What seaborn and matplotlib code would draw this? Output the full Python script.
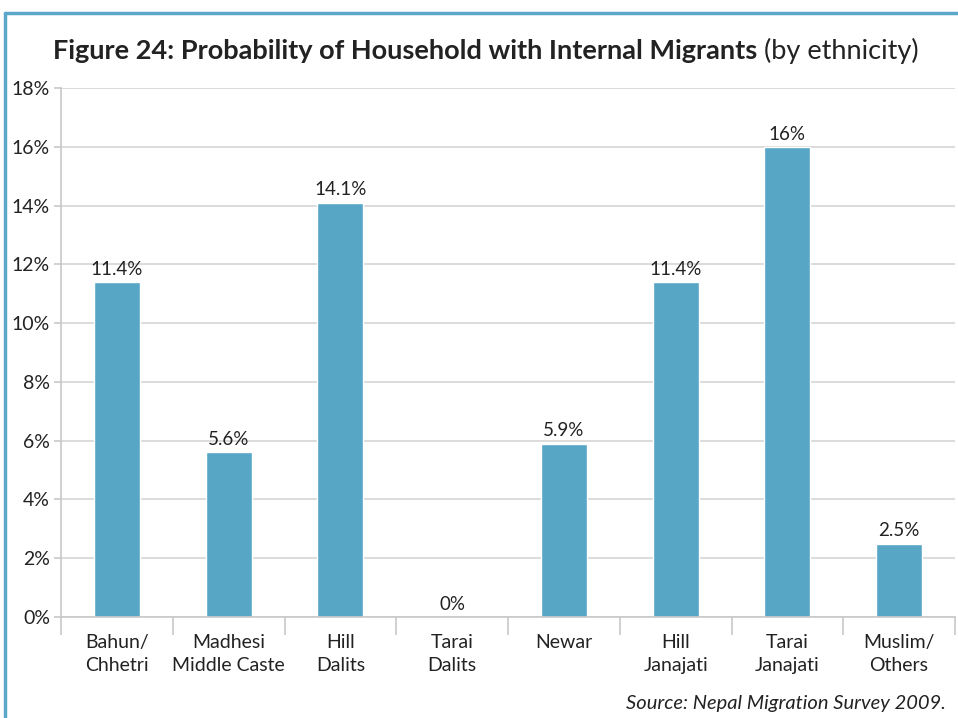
import matplotlib
matplotlib.use("Agg")
import matplotlib.pyplot as plt
import seaborn as sns
import pandas as pd
from matplotlib.lines import Line2D

categories = ["Bahun/\nChhetri", "Madhesi\nMiddle Caste", "Hill\nDalits", "Tarai\nDalits",
              "Newar", "Hill\nJanajati", "Tarai\nJanajati", "Muslim/\nOthers"]
values = [11.4, 5.6, 14.1, 0, 5.9, 11.4, 16, 2.5]
y_ticks = [0, 2, 4, 6, 8, 10, 12, 14, 16, 18]

sns.set_theme(style="white")
plt.rcParams["font.family"] = ["Lato", "DejaVu Sans"]

df = pd.DataFrame({"group": categories, "pct": values})

fig = plt.figure(figsize=(9.58, 7.18), dpi=100)
ax = fig.add_axes([61 / 958, 1 - 617 / 718, (955 - 61) / 958, (617 - 88) / 718])

bar_color = "#58A6C6"
sns.barplot(data=df, x="group", y="pct", color=bar_color, width=0.41,
            saturation=1, ax=ax, zorder=2)

ax.set_ylim(0, 18)
ax.set_xlim(-0.5, len(categories) - 0.5)
ax.set_yticks(y_ticks)
ax.set_yticklabels([f"{t}%" for t in y_ticks], fontsize=14, color="#222222")
ax.yaxis.grid(True, color="#D6D6D6", linewidth=1.2, zorder=0)
ax.set_axisbelow(True)
ax.set_xlabel("")
ax.set_ylabel("")

for s in ["top", "right"]:
    ax.spines[s].set_visible(False)
for s in ["left", "bottom"]:
    ax.spines[s].set_color("#C8C8C8")
    ax.spines[s].set_linewidth(1.2)
ax.spines["bottom"].set_zorder(3)

ax.tick_params(axis="y", which="major", left=True, length=5, color="#C8C8C8", width=1.2, pad=3)
ax.set_xticks(range(len(categories)))
ax.set_xticklabels(categories, fontsize=14, color="#222222", linespacing=1.42)
ax.tick_params(axis="x", which="major", bottom=False, pad=6)
ax.set_xticks([i - 0.5 for i in range(len(categories) + 1)], minor=True)
ax.tick_params(axis="x", which="minor", bottom=True, length=13, color="#C8C8C8", width=1.2)

for i, v in enumerate(values):
    ax.annotate(f"{v:g}%", (i, v), xytext=(0, 3), textcoords="offset points",
                ha="center", va="bottom", fontsize=13.5, color="#222222")

# Title: bold lead followed by a regular qualifier
fig.canvas.draw()
renderer = fig.canvas.get_renderer()
t1 = fig.text(0, 0, "Figure 24: Probability of Household with Internal Migrants ",
              fontsize=19.5, fontweight="bold", color="#222222", va="baseline")
t2 = fig.text(0, 0, "(by ethnicity)", fontsize=19.5, color="#222222", va="baseline")
w1 = t1.get_window_extent(renderer).width
w2 = t2.get_window_extent(renderer).width
x0 = (486 - (w1 + w2) / 2) / 958
ybase = 1 - 59 / 718
t1.set_position((x0, ybase))
t2.set_position((x0 + w1 / 958, ybase))

fig.text(946 / 958, 1 - 703 / 718, "Source: Nepal Migration Survey 2009.",
         fontsize=14.5, style="italic", color="#222222", ha="right", va="center")

# Blue frame along the top and left edges
frame_color = "#5AA7C9"
fig.add_artist(Line2D([5 / 958, 5 / 958], [0, 1 - 13 / 718], transform=fig.transFigure,
                      color=frame_color, linewidth=2.5))
fig.add_artist(Line2D([5 / 958, 1], [1 - 13 / 718, 1 - 13 / 718], transform=fig.transFigure,
                      color=frame_color, linewidth=2.5))

fig.savefig("out.png", dpi=100)
